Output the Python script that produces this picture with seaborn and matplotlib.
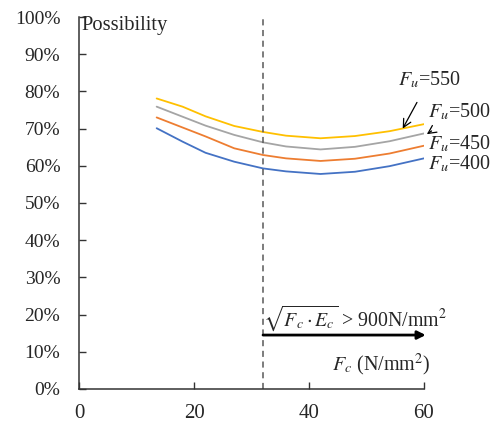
import numpy as np
import pandas as pd
import matplotlib
matplotlib.use("Agg")
import matplotlib.pyplot as plt
import seaborn as sns

# data
fc = [13.5, 18, 22, 27, 32, 36, 42, 48, 54, 60]
fu_400 = [70.1, 66.5, 63.5, 61.1, 59.3, 58.5, 57.8, 58.4, 59.9, 62.0]
fu_450 = [73.0, 70.3, 67.9, 64.7, 62.9, 62.0, 61.3, 61.9, 63.3, 65.4]
fu_500 = [75.9, 73.2, 70.8, 68.3, 66.3, 65.2, 64.4, 65.1, 66.6, 68.7]
fu_550 = [78.1, 75.9, 73.3, 70.7, 69.1, 68.1, 67.4, 68.0, 69.3, 71.2]
series_names = ["400", "450", "500", "550"]
x_ticks = [0, 20, 40, 60]
y_ticks = [0, 10, 20, 30, 40, 50, 60, 70, 80, 90, 100]
limit_fc = 32

sns.set_style("ticks")
plt.rcParams["font.family"] = ["Liberation Serif", "DejaVu Serif"]
plt.rcParams["mathtext.fontset"] = "stix"

rows = []
for name, vals in zip(series_names, [fu_400, fu_450, fu_500, fu_550]):
    for x, v in zip(fc, vals):
        rows.append({"Fc": x, "p": v / 100, "Fu": name})
df = pd.DataFrame(rows)

fig = plt.figure(figsize=(4.91, 4.23), dpi=100)
ax = fig.add_axes([0.161, 0.0804, 0.7025, 0.8794])

palette = {"400": "#4472C4", "450": "#ED7D31", "500": "#A5A5A5", "550": "#FFC000"}
sns.lineplot(data=df, x="Fc", y="p", hue="Fu", palette=palette, linewidth=1.3,
             legend=False, ax=ax)

ax.axvline(limit_fc, color="#595959", linestyle=(0, (4, 3)), linewidth=1.1)

ax.set_xlim(0, 60)
ax.set_ylim(0, 1.0)
ax.set_xticks(x_ticks)
ax.set_yticks([t / 100 for t in y_ticks])
ax.set_yticklabels([f"{t}%" for t in y_ticks])
ax.tick_params(axis="both", direction="in", length=5, width=1, color="#333333")
ax.tick_params(axis="y", pad=13.5, labelsize=14)
ax.tick_params(axis="x", pad=10.5, labelsize=15)
ax.set_xlabel("")
ax.set_ylabel("")
sns.despine(ax=ax)
for s in ["left", "bottom"]:
    ax.spines[s].set_color("#333333")
    ax.spines[s].set_linewidth(1.1)
    ax.spines[s].set_clip_on(False)

ax.text(0.45, 1.002, "Possibility", fontsize=14.8, ha="left", va="top")
ax.text(61.2, 0.03, r"$F_c$ (N/mm$^2$)", fontsize=14.5, ha="right", va="bottom",
        clip_on=False)

# curve labels
ax.annotate(r"$F_u$=550", xy=(56.3, 0.70), xytext=(55.4, 0.83),
            fontsize=14.5, ha="left", va="center",
            arrowprops=dict(arrowstyle="->", color="black", lw=0.9,
                            shrinkA=7, shrinkB=0))
ax.annotate(r"$F_u$=500", xy=(60.5, 0.685), xytext=(60.7, 0.745),
            fontsize=14.5, ha="left", va="center", annotation_clip=False,
            arrowprops=dict(arrowstyle="->", color="black", lw=0.9,
                            shrinkA=7, shrinkB=0))
ax.text(60.7, 0.66, r"$F_u$=450", fontsize=14.5, ha="left", va="center", clip_on=False)
ax.text(60.7, 0.606, r"$F_u$=400", fontsize=14.5, ha="left", va="center", clip_on=False)

# condition arrow
ax.text(limit_fc, 0.19, r"$\sqrt{F_c \cdot E_c}$ > 900N/mm$^2$", fontsize=14.3,
        ha="left", va="center")
ax.annotate("", xy=(60.3, 0.145), xytext=(limit_fc, 0.145), annotation_clip=False,
            arrowprops=dict(arrowstyle="-|>", color="black", lw=2.0,
                            mutation_scale=12, shrinkA=0, shrinkB=0))

fig.savefig("out.png", dpi=100)
